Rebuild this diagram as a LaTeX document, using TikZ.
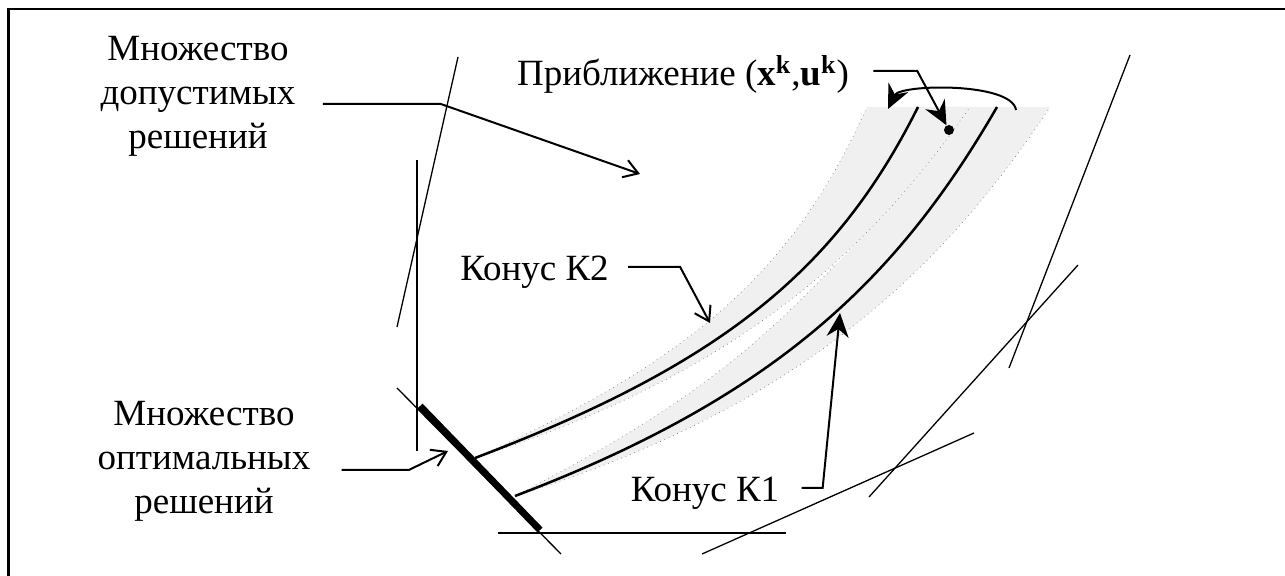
\documentclass[tikz,border=0pt]{standalone}
\usepackage{fontspec}
\setmainfont{Liberation Serif}
\usepackage{tikz}
\usetikzlibrary{arrows.meta, positioning}
\definecolor{conegray}{HTML}{F0F0F0}
\definecolor{edgegray}{HTML}{7F7F7F}

\begin{document}
\begin{tikzpicture}[x=0.5pt, y=-0.5pt, font=\fontsize{18.5pt}{22pt}\selectfont,
  lbl/.style={inner sep=0pt, align=center},
  lead/.style={line width=1pt},
  barb/.style={-{Straight Barb[length=7pt,width=9pt]}},
  stealthtip/.style={-{Stealth[length=12pt,width=11pt,inset=4pt]}},
  aux/.style={line width=0.65pt},
  coneedge/.style={edgegray, dotted, line width=0.35pt},
  conecore/.style={line width=1.25pt}]
\useasboundingbox (0,0) rectangle (1285,576);
% —— рамка ——
\draw[line width=1.25pt] (8.5,9) rectangle (1300,590);
% —— конусы ——
\fill[conegray] (475,458) .. controls (705,354.5) and (797,262) .. (867,107) -- (970,107)
  .. controls (867,255) and (735,375) .. (475,458) -- cycle;
\fill[conegray] (515,496) .. controls (665,418) and (740,365) .. (836,264)
  .. controls (880,222) and (925,160) .. (945,107) -- (1050,107)
  .. controls (940,274) and (795,409) .. (515,496) -- cycle;
\draw[coneedge] (475,458) .. controls (705,354.5) and (797,262) .. (867,107);
\draw[coneedge] (475,458) .. controls (735,375) and (867,255) .. (970,107);
\draw[coneedge] (515,496) .. controls (665,418) and (740,365) .. (836,264);
\draw[coneedge] (515,496) .. controls (795,409) and (940,274) .. (1050,107);
\draw[conecore] (475,458) .. controls (725,363) and (837.5,268) .. (918,107);
\draw[conecore] (515,496) .. controls (775,397) and (897,280) .. (997,107);
% —— вспомогательные прямые ——
\draw[aux] (458,57) -- (397,327);
\draw[aux] (417,160) -- (417,451);
\draw[aux] (397,388) -- (561,554);
\draw[aux] (498,533) -- (786,533);
\draw[aux] (702,554) -- (974,433);
\draw[aux] (869,497) -- (1078,265);
\draw[aux] (1130,55) -- (1009,368);
\draw[line width=3.5pt] (420,406) -- (540,530);
% —— подписи ——
\node[lbl] (feasible) at (198,96) {Множество\\допустимых\\решений};
\node[lbl] (optimal) at (204,461) {Множество\\оптимальных\\решений};
\node[lbl, anchor=base] (approx) at (683,86) {Приближение (\textbf{x}\textsuperscript{\textbf{k}},\textbf{u}\textsuperscript{\textbf{k}})};
\node[lbl, anchor=base] (conetwo) at (534.5,281) {Конус К2};
\node[lbl, anchor=base] (coneone) at (705,502) {Конус К1};
\node[circle, fill, inner sep=0pt, minimum size=5pt] (xk) at (949,130) {};
\coordinate (feastip) at (640,174);
\coordinate (opttip) at (448,451);
\coordinate (k2tip) at (710,323);
\coordinate (k1tip) at (840,313);
\coordinate (arcstart) at (1016,110);
\coordinate (arcend) at (888,109);
% —— выноски ——
\draw[lead, barb] ([shift={(27,8)}]feasible.east) -- ++(118,0) -- (feastip);
\draw[lead, barb] ([shift={(31,9)}]optimal.east) -- ++(67,0) -- (opttip);
\draw[lead, stealthtip] ([shift={(24,-15)}]approx.base east) -- ++(44,0) -- (xk);
\draw[lead, barb] ([shift={(19,-14)}]conetwo.base east) -- ++(52,0) -- (k2tip);
\draw[lead, stealthtip] ([shift={(22,-14)}]coneone.base east) -- ++(21,0) -- (k1tip);
\draw[lead, stealthtip] (arcstart) .. controls (1012,82) and (900,84) .. (arcend);
\end{tikzpicture}
\end{document}
